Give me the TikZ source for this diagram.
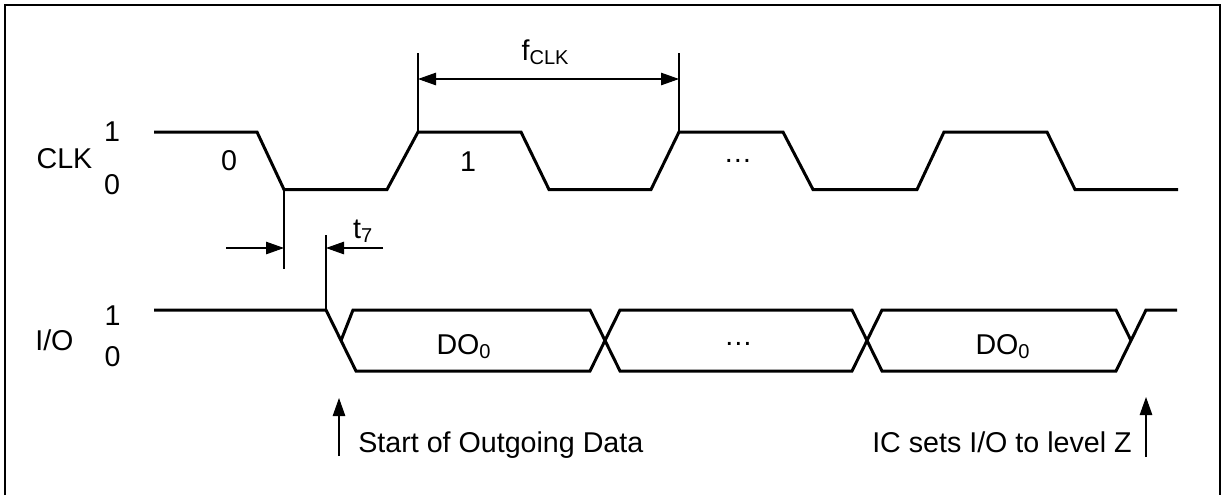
\documentclass[tikz,border=0pt]{standalone}
\usepackage{fontspec}
\setmainfont{Liberation Sans}
\usetikzlibrary{arrows.meta}

\begin{document}
\begin{tikzpicture}[x=0.02cm, y=-0.02cm,
  every node/.style={inner sep=0pt, font=\fontsize{16.3}{19}\selectfont},
  wave/.style={line width=1.7pt},
  guide/.style={line width=0.6pt},
  dimarrow/.style={line width=0.6pt, -{Triangle[length=0.36cm, width=0.25cm]}},
  dimboth/.style={line width=0.6pt, {Triangle[length=0.36cm, width=0.25cm]}-{Triangle[length=0.36cm, width=0.25cm]}}]

% Page size and frame
\useasboundingbox (0,0) rectangle (1229,495);
\draw[line width=1.5pt] (5,495) -- (5,5) -- (1220,5) -- (1220,495);

% Signal names and levels
\node[anchor=base] (clk) at (64.5,168) {CLK};
\node[anchor=base] (clk1) at (112,141.7) {1};
\node[anchor=base] (clk0) at (112,194.5) {0};
\node[anchor=base] (io) at (54.4,350) {I/O};
\node[anchor=base] (io1) at (112.6,325) {1};
\node[anchor=base] (io0) at (112.6,366.7) {0};

% CLK waveform
\draw[wave] (154,132) -- (257,132) -- (284,189.5) -- (387,189.5) -- (418,132) -- (521,132) -- (549,189.5) -- (651,189.5) -- (679,132) -- (783,132) -- (813,189.5) -- (917,189.5) -- (944,132) -- (1047,132) -- (1075,189.5) -- (1178,189.5);
\node[anchor=base] (bit0) at (229,170.5) {0};
\node[anchor=base] (bit1) at (468,171.5) {1};
\node[anchor=base] (clkdots) at (738,162.5) {…};

% I/O waveform
\draw[wave] (154,310) -- (326,310) -- (356,371) -- (590,371) -- (620,310) -- (852,310) -- (882,371) -- (1116,371) -- (1146,310) -- (1177,310);
\draw[wave] (341,340.5) -- (353,310) -- (590,310) -- (620,371) -- (852,371) -- (882,310) -- (1116,310) -- (1131,340.5);
\node[anchor=base] (do1) at (464,354) {DO\textsubscript{0}};
\node[anchor=base] (iodots) at (738.5,345) {…};
\node[anchor=base] (do2) at (1003,354) {DO\textsubscript{0}};

% f_CLK
\coordinate (fa) at (418,79);
\coordinate (fb) at (679,79);
\draw[guide] (418,53) -- (418,132);
\draw[guide] (679,53) -- (679,132);
\draw[dimboth] (fa) -- (fb);
\node[anchor=base] (fclk) at (545.5,60) {f\textsubscript{CLK}};

% t7
\coordinate (ta0) at (226,248);
\coordinate (ta) at (284,248);
\coordinate (tb0) at (383,248);
\coordinate (tb) at (326,248);
\draw[guide] (284,189.5) -- (284,269);
\draw[guide] (326,235) -- (326,310);
\draw[dimarrow] (ta0) -- (ta);
\draw[dimarrow] (tb0) -- (tb);
\node[anchor=base west] (t7) at (352.7,238) {t\textsubscript{7}};

% Markers
\coordinate (startfoot) at (339,456);
\coordinate (starttip) at (339,398);
\draw[dimarrow] (startfoot) -- (starttip);
\node[anchor=base west] (starttxt) at (358,452) {Start of Outgoing Data};
\coordinate (zfoot) at (1146,457);
\coordinate (ztip) at (1146,397);
\draw[dimarrow] (zfoot) -- (ztip);
\node[anchor=base east] (ztxt) at (1132,452) {IC sets I/O to level Z};
\end{tikzpicture}
\end{document}
